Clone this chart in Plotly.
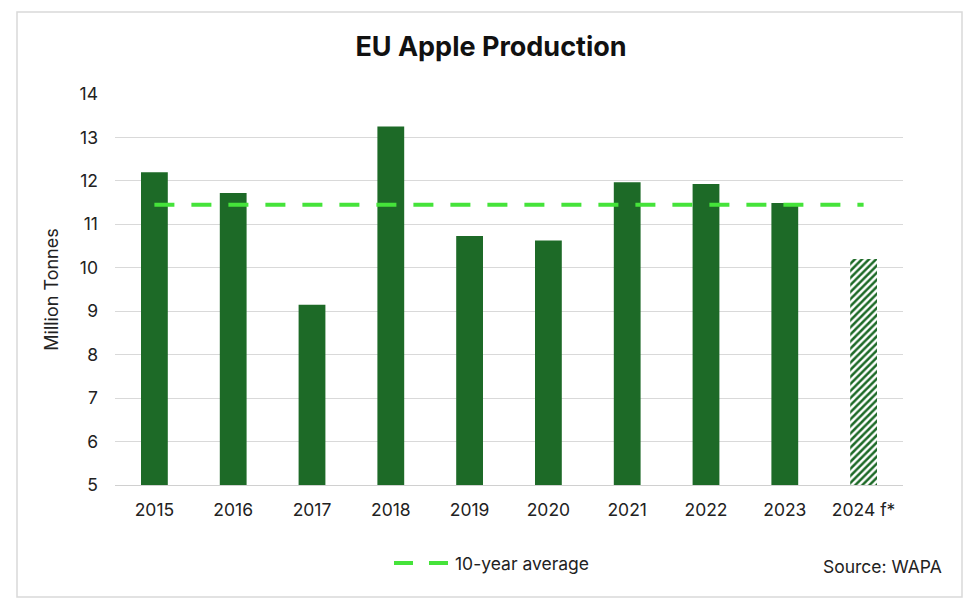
import plotly.graph_objects as go

years = ["2015", "2016", "2017", "2018", "2019", "2020", "2021", "2022", "2023", "2024 f*"]
production = [12.2, 11.72, 9.15, 13.25, 10.73, 10.63, 11.97, 11.93, 11.49, 10.2]
ten_year_avg = [11.45] * len(years)
forecast_flag = [False] * 9 + [True]
legend_label = "10-year average"
source_text = "Source: WAPA"

bar_color = "#1d6a27"
avg_color = "#45e33a"

fig = go.Figure()
fig.add_trace(go.Bar(
    x=years, y=production,
    marker=dict(
        color=bar_color,
        line=dict(width=0),
        pattern=dict(
            shape=[("/" if f else "") for f in forecast_flag],
            bgcolor="white",
            fillmode="replace",
            size=5, solidity=0.5,
        ),
    ),
    showlegend=False,
    hoverinfo="x+y",
))
fig.add_trace(go.Scatter(
    x=years, y=ten_year_avg, mode="lines",
    line=dict(color=avg_color, width=4, dash="20px,17px"),
    name=legend_label, showlegend=False,
))

# page has an 8px body margin; positions below are in window pixels
OFF = 8
W, H = 971 - 2 * OFF, 612 - 2 * OFF
L, R, T, B = 115 - OFF, 971 - 903 - OFF, 94 - OFF, 612 - 485 - OFF
pw, ph = W - L - R, H - T - B

def px_x(p):
    return (p - OFF - L) / pw

def px_y(p):
    return (H - B - (p - OFF)) / ph

legend_shapes = [
    dict(type="line", xref="paper", yref="paper",
         x0=px_x(a), x1=px_x(b), y0=px_y(563), y1=px_y(563),
         line=dict(color=avg_color, width=4))
    for a, b in [(394, 413), (429, 448)]
]

fig.update_layout(
    width=W, height=H,
    margin=dict(l=L, r=R, t=T, b=B),
    paper_bgcolor="white", plot_bgcolor="white",
    font=dict(family="Inter, Liberation Sans, sans-serif", color="#222222", size=17.5),
    title=dict(text="<b>EU Apple Production</b>", x=(491 - OFF) / W, xanchor="center",
               y=1 - (47 - OFF) / H, yanchor="middle", font=dict(size=27, color="#111111")),
    bargap=0.66,
    showlegend=False,
    xaxis=dict(showgrid=False, showline=True, linecolor="#d0d0d0", linewidth=1,
               ticks="", tickfont=dict(size=17.5), ticklabelstandoff=9),
    yaxis=dict(range=[5, 14], dtick=1, showgrid=True, gridcolor="#d9d9d9", gridwidth=1,
               zeroline=False, showline=False, ticks="", tickfont=dict(size=17.5),
               ticklabelstandoff=16,
               title=dict(text="Million Tonnes", font=dict(size=18), standoff=16)),
    shapes=[dict(type="rect", xref="paper", yref="paper",
                 x0=px_x(17), x1=px_x(962), y0=px_y(597), y1=px_y(12),
                 line=dict(color="#d9d9d9", width=1.5), fillcolor="rgba(0,0,0,0)", layer="below")]
           + legend_shapes,
    annotations=[
        dict(text=source_text, xref="paper", yref="paper",
             x=px_x(944), y=px_y(566), xanchor="right", yanchor="middle",
             showarrow=False, font=dict(size=17.5, color="#222222")),
        dict(text=legend_label, xref="paper", yref="paper",
             x=px_x(453), y=px_y(563), xanchor="left", yanchor="middle",
             showarrow=False, font=dict(size=17.5, color="#222222")),
    ],
)

fig.write_html("out.html")
